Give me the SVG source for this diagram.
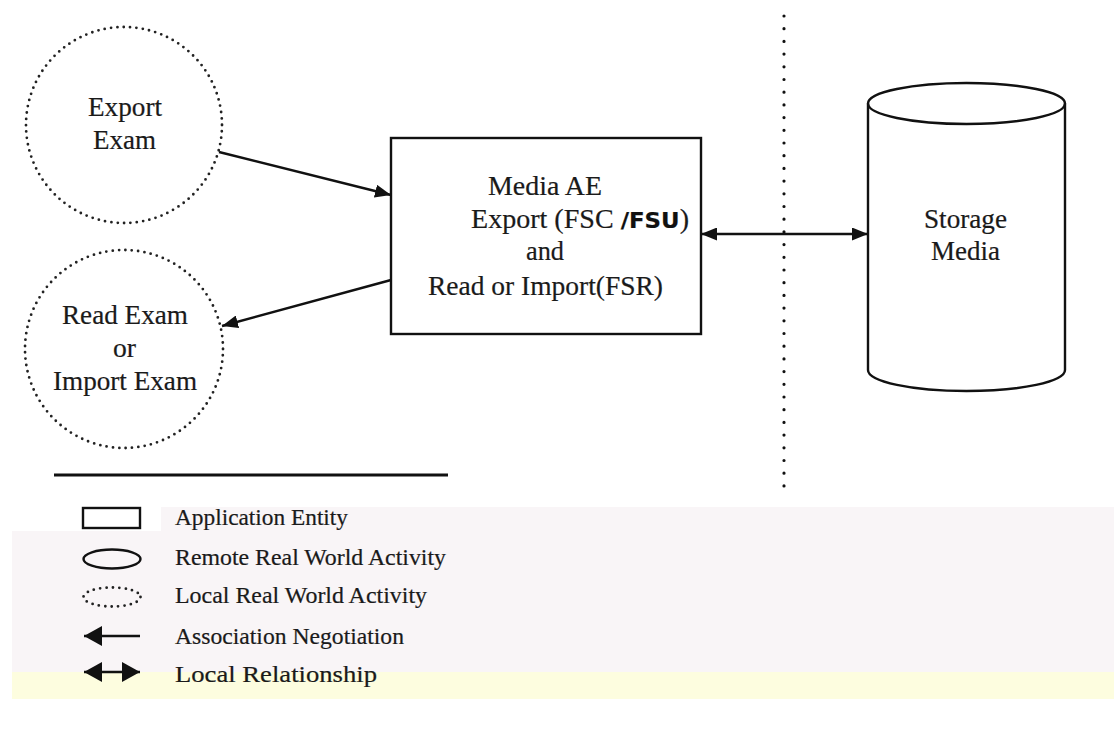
<svg xmlns="http://www.w3.org/2000/svg" width="1114" height="729" viewBox="0 0 1114 729">
<defs>
<style>
.t{font-family:"Liberation Serif","Times New Roman",serif;fill:#1a1a1a;stroke:#1a1a1a;stroke-width:0.2}
.m{font-size:27px}
.lg{font-size:23px}
.ln{stroke:#111;stroke-width:2.4;fill:none}
.dot{stroke:#222;stroke-width:2.8;fill:none;stroke-linecap:round;stroke-dasharray:0 6.4}
</style>
<marker id="ah" viewBox="0 0 16 13" markerWidth="16" markerHeight="13" refX="16" refY="6.5" orient="auto-start-reverse" markerUnits="userSpaceOnUse"><path d="M0,0 L16,6.5 L0,13 z" fill="#111"/></marker>
<marker id="ahL" viewBox="0 0 18 20" markerWidth="18" markerHeight="20" refX="18" refY="10" orient="auto-start-reverse" markerUnits="userSpaceOnUse"><path d="M0,0 L18,10 L0,20 z" fill="#111"/></marker>
</defs>
<rect width="1114" height="729" fill="#ffffff"/>
<g id="bands">
<rect x="161" y="507" width="953" height="24" fill="#f9f5f7"/>
<rect x="12" y="531" width="1102" height="141" fill="#f9f5f7"/>
<rect x="12" y="672" width="1102" height="27" fill="#fdfddf"/>
</g>
<g id="boundary">
<line x1="784" y1="16" x2="784" y2="494" stroke="#111" stroke-width="3.2" stroke-linecap="round" stroke-dasharray="0 12.7"/>
</g>
<g id="export-exam">
<circle cx="124" cy="125" r="98" class="dot"/>
<text class="t m" x="88" y="116" textLength="74" lengthAdjust="spacingAndGlyphs">Export</text>
<text class="t m" x="93" y="149" textLength="63" lengthAdjust="spacingAndGlyphs">Exam</text>
</g>
<g id="read-import-exam">
<circle cx="124" cy="349" r="99" class="dot"/>
<text class="t m" x="62" y="324" textLength="126" lengthAdjust="spacingAndGlyphs">Read Exam</text>
<text class="t m" x="113" y="357" textLength="23" lengthAdjust="spacingAndGlyphs">or</text>
<text class="t m" x="53" y="390" textLength="144" lengthAdjust="spacingAndGlyphs">Import Exam</text>
</g>
<g id="media-ae">
<rect x="391" y="138" width="310" height="196" class="ln"/>
<text class="t m" x="488" y="195" textLength="114" lengthAdjust="spacingAndGlyphs">Media AE</text>
<text class="t m" x="471" y="228" textLength="218" lengthAdjust="spacingAndGlyphs">Export (FSC <tspan font-family="DejaVu Sans, sans-serif" font-size="22" font-weight="bold" fill="#111">/FSU</tspan>)</text>
<text class="t m" x="526" y="260" textLength="38" lengthAdjust="spacingAndGlyphs">and</text>
<text class="t m" x="428" y="295" textLength="235" lengthAdjust="spacingAndGlyphs">Read or Import(FSR)</text>
</g>
<g id="storage-media">
<path d="M868,103.5 L868,370 A98.5,21 0 0 0 1065,370 L1065,103.5" class="ln" stroke-width="2"/>
<ellipse cx="966.5" cy="103.5" rx="98.5" ry="20.5" class="ln" stroke-width="2" fill="#fff"/>
<text class="t m" x="924" y="228" textLength="83" lengthAdjust="spacingAndGlyphs">Storage</text>
<text class="t m" x="931" y="260" textLength="69" lengthAdjust="spacingAndGlyphs">Media</text>
</g>
<g id="connectors">
<line x1="219" y1="152" x2="391" y2="195" class="ln" stroke-width="2.6" marker-end="url(#ah)"/>
<line x1="391" y1="280" x2="222" y2="326" class="ln" stroke-width="2.6" marker-end="url(#ah)"/>
<line x1="701" y1="234" x2="868" y2="234" class="ln" stroke-width="2.4" marker-start="url(#ah)" marker-end="url(#ah)"/>
</g>
<g id="legend">
<line x1="54" y1="475" x2="448" y2="475" stroke="#111" stroke-width="3"/>
<rect x="83" y="508" width="57" height="20" class="ln" stroke-width="2.6"/>
<text class="t lg" x="175" y="525" textLength="173" lengthAdjust="spacingAndGlyphs">Application Entity</text>
<ellipse cx="112" cy="559" rx="28.5" ry="9.5" class="ln" stroke-width="2.6"/>
<text class="t lg" x="175" y="565" textLength="271" lengthAdjust="spacingAndGlyphs">Remote Real World Activity</text>
<ellipse cx="112" cy="597" rx="28.5" ry="9.5" class="dot" stroke-width="2.2" stroke-dasharray="0 5"/>
<text class="t lg" x="175" y="603" textLength="252" lengthAdjust="spacingAndGlyphs">Local Real World Activity</text>
<line x1="140" y1="636" x2="84" y2="636" class="ln" stroke-width="3" marker-end="url(#ahL)"/>
<text class="t lg" x="175" y="644" textLength="229" lengthAdjust="spacingAndGlyphs">Association Negotiation</text>
<line x1="84" y1="672" x2="140" y2="672" class="ln" stroke-width="3" marker-start="url(#ahL)" marker-end="url(#ahL)"/>
<text class="t lg" x="175" y="682" textLength="202" lengthAdjust="spacingAndGlyphs">Local Relationship</text>
</g>
</svg>
